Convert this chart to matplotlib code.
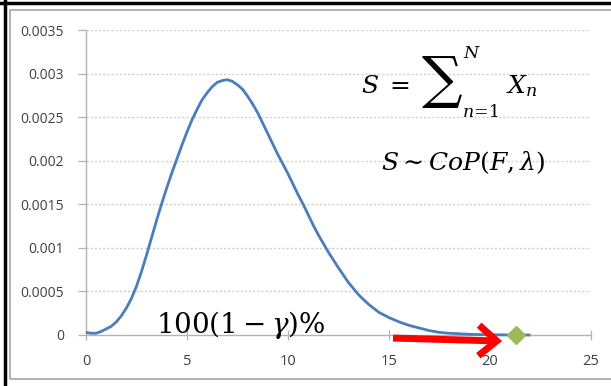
import matplotlib
matplotlib.use("Agg")
import matplotlib.pyplot as plt
from matplotlib.lines import Line2D
from matplotlib.patches import Rectangle

# Aggregate-loss density curve
x_vals = [0, 0.25, 0.5, 0.75, 1, 1.25, 1.5, 1.75, 2, 2.25, 2.5, 2.75, 3, 3.25,
          3.5, 3.75, 4, 4.25, 4.5, 4.75, 5, 5.25, 5.5, 5.75, 6, 6.25, 6.5,
          6.75, 7, 7.25, 7.5, 7.75, 8, 8.25, 8.5, 8.75, 9, 9.25, 9.5, 9.75,
          10, 10.25, 10.5, 10.75, 11, 11.25, 11.5, 11.75, 12, 12.5, 13, 13.5,
          14, 14.5, 15, 15.5, 16, 16.5, 17, 17.5, 18, 19, 20, 21, 22]
density = [0.00003, 0.00002, 0.00002, 0.00004, 0.00007, 0.0001, 0.00015,
           0.00022, 0.00031, 0.00042, 0.00056, 0.00073, 0.00092, 0.00112,
           0.00132, 0.00151, 0.00169, 0.00186, 0.00202, 0.00218, 0.00233,
           0.00247, 0.00259, 0.0027, 0.00278, 0.00285, 0.0029, 0.00292,
           0.00293, 0.00291, 0.00287, 0.00282, 0.00274, 0.00265, 0.00255,
           0.00243, 0.00231, 0.00219, 0.00207, 0.00196, 0.00185, 0.00173,
           0.00161, 0.0015, 0.00138, 0.00126, 0.00115, 0.00105, 0.00095,
           0.00077, 0.0006, 0.00046, 0.00035, 0.00026, 0.0002, 0.00015,
           0.00011, 0.00008, 0.00005, 0.00003, 0.00002, 0.000008, 0.000003,
           0.000001, 0.0]

# Quantile marker
quantile_x = [21.3]
quantile_y = [0.0]

x_ticks = [0, 5, 10, 15, 20, 25]
y_ticks = [0, 0.0005, 0.001, 0.0015, 0.002, 0.0025, 0.003, 0.0035]
y_tick_labels = ["0", "0.0005", "0.001", "0.0015", "0.002", "0.0025", "0.003", "0.0035"]

W, H = 611, 386
plt.rcParams["mathtext.fontset"] = "dejavuserif"

fig = plt.figure(figsize=(W / 100, H / 100), dpi=100)


def px(x, y):
    return (x / W, 1 - y / H)


ax = fig.add_axes([86 / W, 1 - 335 / H, (591 - 86) / W, (335 - 30) / H])
ax.set_xlim(0, 25)
ax.set_ylim(0, 0.0035)

grid_col = "#cfcfcf"
axis_col = "#b3b3b3"
for yv in y_ticks[1:]:
    ax.axhline(yv, color=grid_col, lw=1.0, ls=(0, (1.5, 1.5)), zorder=0)

for s in ["top", "right"]:
    ax.spines[s].set_visible(False)
for s in ["left", "bottom"]:
    ax.spines[s].set_color(axis_col)
    ax.spines[s].set_linewidth(1.0)

ax.set_xticks(x_ticks)
ax.set_yticks(y_ticks)
ax.set_yticklabels(y_tick_labels)
ax.tick_params(axis="x", direction="inout", length=7, width=0.9, color=axis_col,
               pad=10, labelsize=10.5, labelcolor="#404040")
ax.tick_params(axis="y", direction="out", length=6, width=0.9, color=axis_col,
               pad=10, labelsize=10, labelcolor="#404040")
for lab in ax.get_xticklabels() + ax.get_yticklabels():
    lab.set_fontfamily("Open Sans")

ax.plot(x_vals, density, color="#4a7ebb", lw=2.0, zorder=3, clip_on=False,
        solid_joinstyle="round", solid_capstyle="butt")
ax.plot(quantile_x, quantile_y, marker="D", ms=9, color="#9bbb59",
        markeredgecolor="#9bbb59", ls="none", zorder=5, clip_on=False)

ax.annotate("", xy=(20.6, -0.00007), xytext=(15.2, -0.000035),
            xycoords="data", textcoords="data", annotation_clip=False,
            arrowprops=dict(arrowstyle="->,head_length=0.65,head_width=0.55",
                            mutation_scale=20, color="#ff0000", lw=5,
                            shrinkA=0, shrinkB=0, joinstyle="miter",
                            capstyle="butt"),
            zorder=6)

# Formulas
fs = 18
fig.text(*px(361, 93), r"$S\;=$", fontsize=fs, va="baseline", ha="left")
fig.text(*px(421, 97), "$\u2211$", fontsize=29, va="baseline", ha="left")
fig.text(*px(463, 58), r"$N$", fontsize=12.5, va="baseline", ha="left")
fig.text(*px(462, 117), r"$n\!=\!1$", fontsize=12.5, va="baseline", ha="left")
fig.text(*px(506, 93), r"$X_n$", fontsize=fs, va="baseline", ha="left")
fig.text(*px(381, 170), r"$S{\sim}CoP(F,\lambda)$", fontsize=fs,
         va="baseline", ha="left")
fig.text(*px(156, 333), r"$100(1-\gamma)\%$", fontsize=20, va="baseline",
         ha="left")

# Frames
fig.add_artist(Rectangle((10 / W, 1 - 379 / H), 1.0, (379 - 10) / H,
                         transform=fig.transFigure, fill=False,
                         edgecolor="#a6a6a6", lw=1.2))
fig.add_artist(Line2D([0, 1], [1 - 2.5 / H, 1 - 2.5 / H],
                      transform=fig.transFigure, color="black", lw=2.5))
fig.add_artist(Line2D([4.5 / W, 4.5 / W], [0, 1],
                      transform=fig.transFigure, color="black", lw=2.5))

fig.savefig("out.png", dpi=100)
